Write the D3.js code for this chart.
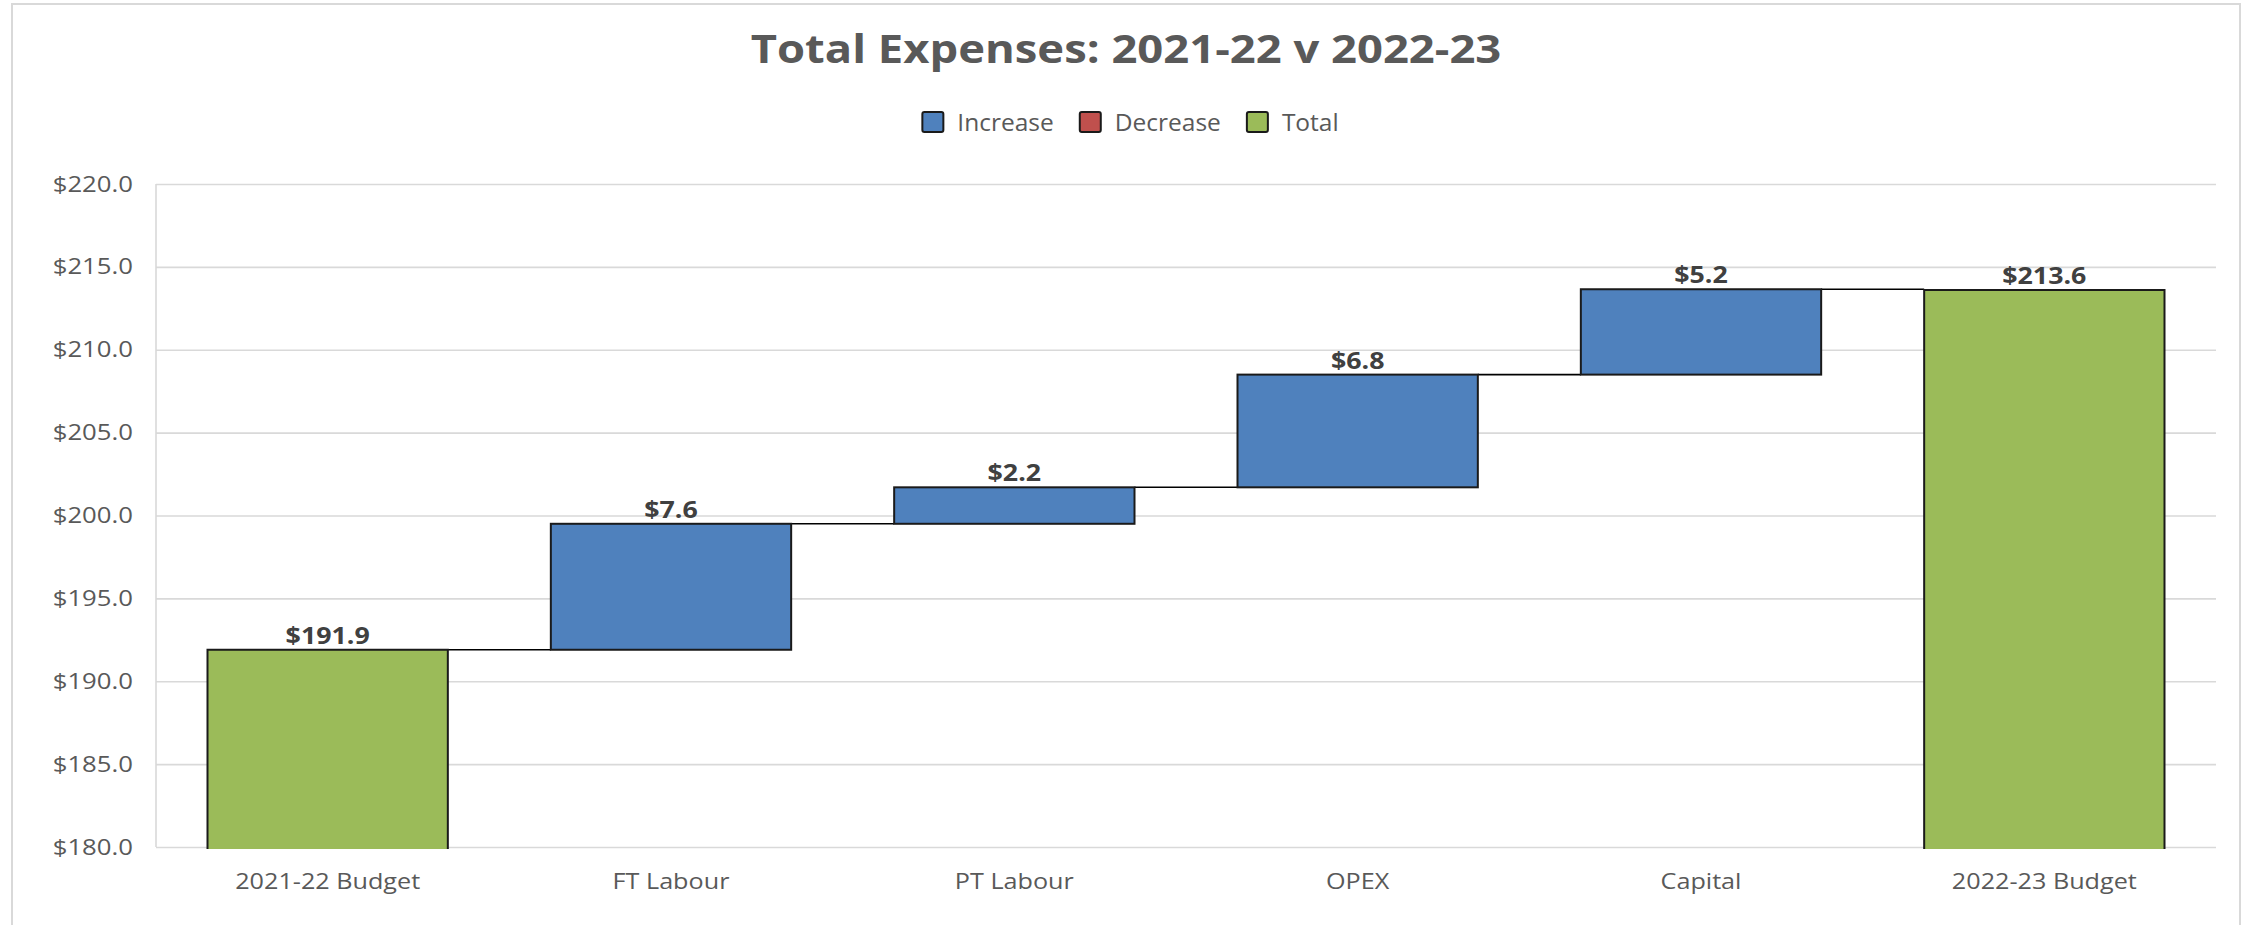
<!DOCTYPE html>
<html>
<head>
<meta charset="utf-8">
<script src="https://cdn.jsdelivr.net/npm/d3@7"></script>
<style>
  body { margin: 0; background: #fff; }
  text { font-family: "Open Sans", sans-serif; }
</style>
</head>
<body>
<div id="chart"></div>
<script>
// Data
var categories = ["2021-22 Budget", "FT Labour", "PT Labour", "OPEX", "Capital", "2022-23 Budget"];
var values = [191.9, 7.6, 2.2, 6.8, 5.15, 213.6];
var kinds = ["total", "increase", "increase", "increase", "increase", "total"];
var yTicks = [180, 185, 190, 195, 200, 205, 210, 215, 220];
var legendLabels = ["Increase", "Decrease", "Total"];
var legendKinds = ["increase", "decrease", "total"];

var colors = { increase: "#4f81bd", decrease: "#c0504d", total: "#9bbb59" };

// Set up chart
var svgWidth = 2247;
var svgHeight = 925;
var margin = { top: 184, right: 31, bottom: 78, left: 156 };
var width = svgWidth - margin.left - margin.right;
var height = svgHeight - margin.top - margin.bottom;

var svg = d3.select("#chart")
    .append("svg")
    .attr("width", svgWidth)
    .attr("height", svgHeight);

svg.append("rect")
    .attr("width", svgWidth)
    .attr("height", svgHeight)
    .attr("fill", "#fff");

// outer chart border
svg.append("rect")
    .attr("x", 12)
    .attr("y", 4)
    .attr("width", 2228)
    .attr("height", 960)
    .attr("fill", "none")
    .attr("stroke", "#d9d9d9")
    .attr("stroke-width", 2);

var chartGroup = svg.append("g")
    .attr("transform", `translate(${margin.left}, ${margin.top})`);

// running totals for the waterfall
var steps = [];
var running = 0;
values.forEach(function (v, i) {
    var k = kinds[i], start, end;
    if (k === "total") { start = 0; end = v; }
    else if (k === "increase") { start = running; end = running + v; }
    else { start = running; end = running - v; }
    running = end;
    steps.push({ cat: categories[i], value: v, kind: k, start: start, end: end });
});

// Scales
var xBand = d3.scaleBand()
    .domain(categories)
    .range([0, width])
    .paddingInner(0.3)
    .paddingOuter(0.15);

var yLinearScale = d3.scaleLinear()
    .domain([d3.min(yTicks), d3.max(yTicks)])
    .range([height, 0])
    .clamp(true);

// Gridlines + y labels
var leftAxis = d3.axisLeft(yLinearScale)
    .tickValues(yTicks)
    .tickSize(-width)
    .tickFormat(d => "$" + d.toFixed(1));

var yAxis = chartGroup.append("g").call(leftAxis);
yAxis.select(".domain").remove();
yAxis.selectAll(".tick line")
    .attr("stroke", "#d9d9d9")
    .attr("stroke-width", 1.6);
yAxis.selectAll(".tick text")
    .attr("x", -23 / 1.17)
    .attr("transform", "scale(1.17,1)")
    .attr("font-size", 22)
    .attr("fill", "#595959")
    .attr("font-family", "Open Sans");

chartGroup.append("line")
    .attr("x1", 0).attr("x2", 0)
    .attr("y1", 0).attr("y2", height)
    .attr("stroke", "#d9d9d9")
    .attr("stroke-width", 1.6);

// x labels
chartGroup.selectAll(".xlabel")
    .data(categories)
    .enter()
    .append("g")
    .attr("class", "xlabel")
    .attr("transform", d => `translate(${xBand(d) + xBand.bandwidth() / 2}, ${height + 42})`)
    .append("text")
    .attr("transform", "scale(1.12,1)")
    .attr("text-anchor", "middle")
    .attr("font-size", 22.5)
    .attr("fill", "#595959")
    .text(d => d);

// connectors
var bw = xBand.bandwidth();
chartGroup.selectAll(".connector")
    .data(steps.slice(0, -1))
    .enter()
    .append("line")
    .attr("x1", d => xBand(d.cat) + bw)
    .attr("x2", (d, i) => xBand(steps[i + 1].cat))
    .attr("y1", d => yLinearScale(d.end))
    .attr("y2", d => yLinearScale(d.end))
    .attr("stroke", "#000")
    .attr("stroke-width", 1.6);

// bars
var bars = chartGroup.selectAll(".bar")
    .data(steps)
    .enter()
    .append("g")
    .attr("class", "bar");

bars.append("rect")
    .attr("x", d => xBand(d.cat))
    .attr("y", d => yLinearScale(Math.max(d.start, d.end)))
    .attr("width", bw)
    .attr("height", d => yLinearScale(Math.min(d.start, d.end)) - yLinearScale(Math.max(d.start, d.end)) + (d.kind === "total" ? 2 : 0))
    .attr("fill", d => colors[d.kind])
    .attr("stroke", d => d.kind === "total" ? "none" : "#1a1a1a")
    .attr("stroke-width", 2);

// outline for total bars (no bottom edge)
bars.filter(d => d.kind === "total")
    .append("path")
    .attr("d", function (d) {
        var x0 = xBand(d.cat), x1 = x0 + bw;
        var yt = yLinearScale(d.end), yb = yLinearScale(0) + 2;
        return `M${x0},${yb}V${yt}H${x1}V${yb}`;
    })
    .attr("fill", "none")
    .attr("stroke", "#1a1a1a")
    .attr("stroke-width", 2);

// value labels
bars.append("g")
    .attr("transform", d => `translate(${xBand(d.cat) + bw / 2}, ${yLinearScale(Math.max(d.start, d.end)) - 6})`)
    .append("text")
    .attr("transform", "scale(1.19,1)")
    .attr("text-anchor", "middle")
    .attr("font-size", 22.5)
    .attr("font-weight", "bold")
    .attr("fill", "#404040")
    .text(d => "$" + d.value.toFixed(1));

// Title
svg.append("g")
    .attr("transform", "translate(1126, 63)")
    .append("text")
    .attr("transform", "scale(1.164,1)")
    .attr("text-anchor", "middle")
    .attr("font-size", 39)
    .attr("font-weight", "bold")
    .attr("fill", "#595959")
    .text("Total Expenses: 2021-22 v 2022-23");

// Legend
var legend = svg.append("g");
var lx = 0;
legendLabels.forEach(function (label, i) {
    var item = legend.append("g").attr("transform", `translate(${lx}, 0)`);
    item.append("rect")
        .attr("x", 1).attr("y", 112)
        .attr("width", 21).attr("height", 20)
        .attr("rx", 2)
        .attr("fill", colors[legendKinds[i]])
        .attr("stroke", "#1a1a1a")
        .attr("stroke-width", 2);
    var t = item.append("text")
        .attr("x", 36)
        .attr("y", 131)
        .attr("font-size", 24.5)
        .attr("fill", "#595959")
        .text(label);
    lx += 36 + t.node().getComputedTextLength() + 25;
});
var legendWidth = lx - 25;
legend.attr("transform", `translate(${1130 - legendWidth / 2}, 0)`);
</script>
</body>
</html>
